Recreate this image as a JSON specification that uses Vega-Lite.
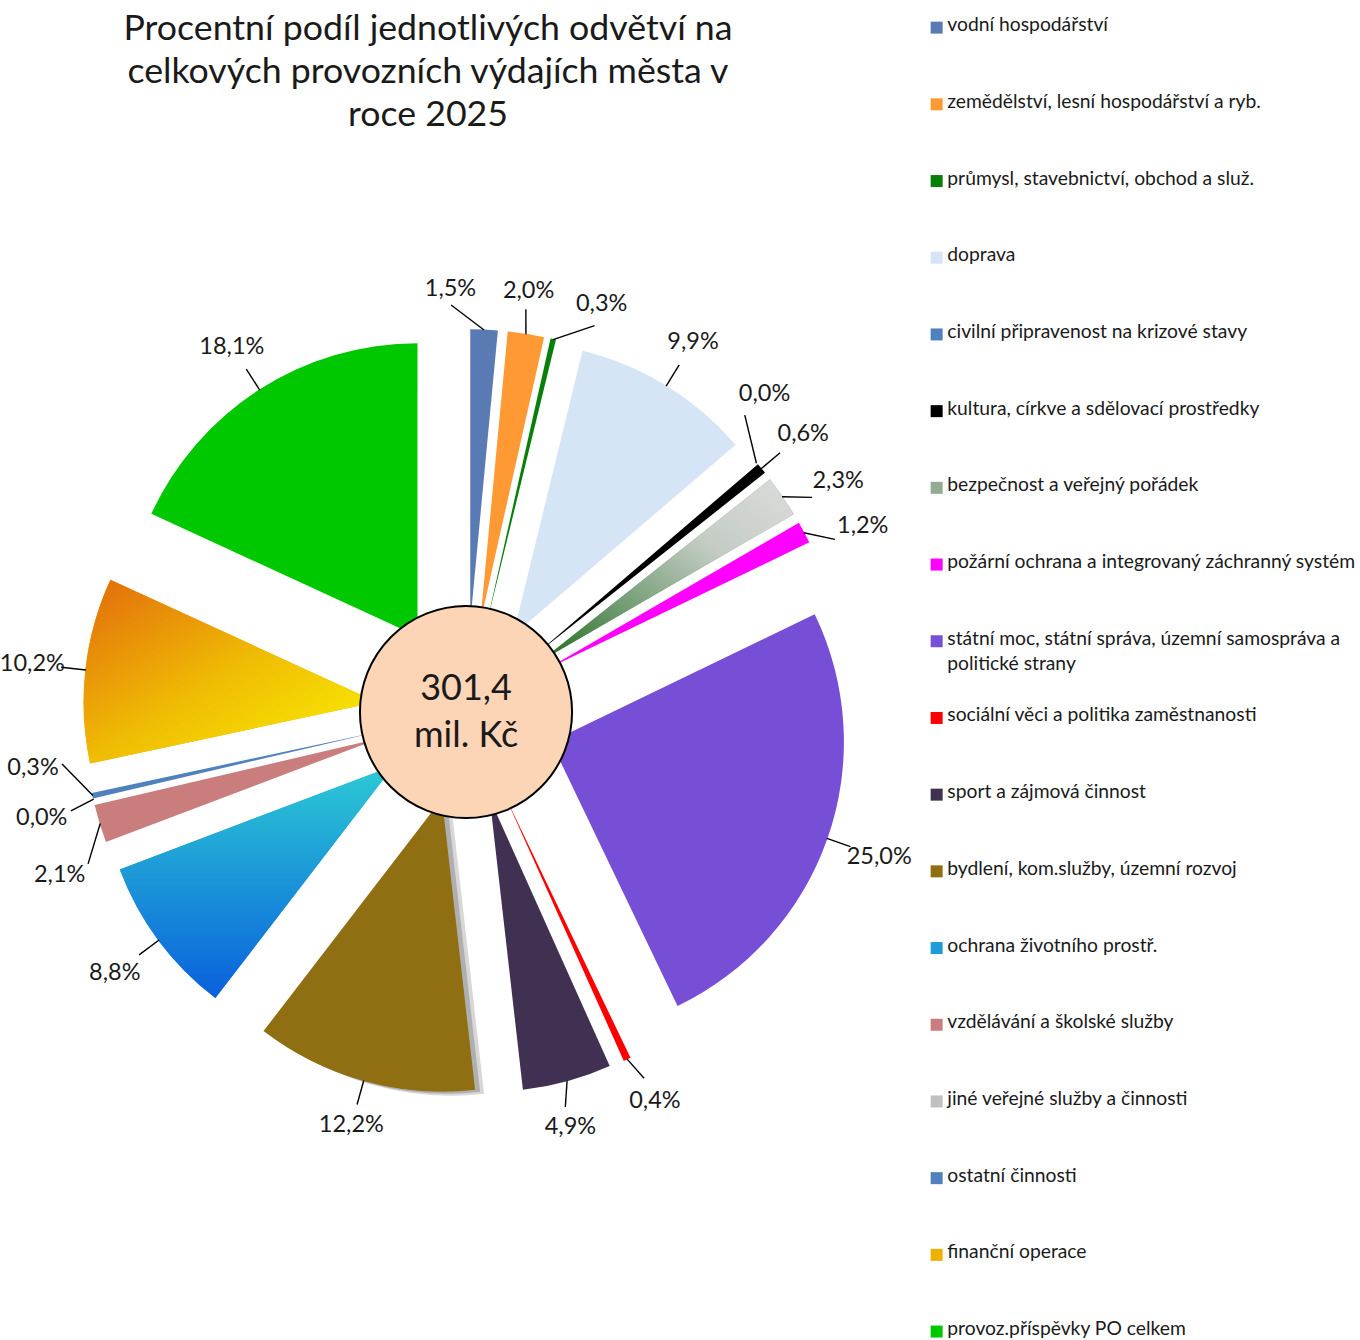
{
  "$schema": "https://vega.github.io/schema/vega-lite/v6.json",
  "width": 932,
  "height": 1340,
  "autosize": {"type": "none"},
  "padding": {"left": 0, "top": 0, "right": 428, "bottom": 0},
  "background": "white",
  "config": {"view": {"stroke": null}, "font": "Lato"},
  "title": {
    "text": ["Procentní podíl jednotlivých odvětví na", "celkových provozních výdajích města v", "roce 2025"],
    "font": "Lato", "fontSize": 35.7, "fontWeight": "normal", "lineHeight": 43, "color": "#1a1a1a",
    "anchor": "middle", "dx": -38, "offset": -134
  },
  "layer": [
    {
      "data": {"values": [
        {"cat": "vodní hospodářství", "share": 0.015},
        {"cat": "zemědělství, lesní hospodářství a ryb.", "share": 0.020},
        {"cat": "průmysl, stavebnictví, obchod a služ.", "share": 0.003},
        {"cat": "doprava", "share": 0.099},
        {"cat": "civilní připravenost na krizové stavy", "share": 0.0},
        {"cat": "kultura, církve a sdělovací prostředky", "share": 0.006},
        {"cat": "bezpečnost a veřejný pořádek", "share": 0.023},
        {"cat": "požární ochrana a integrovaný záchranný systém", "share": 0.012},
        {"cat": "státní moc, státní správa, územní samospráva a politické strany", "share": 0.250},
        {"cat": "sociální věci a politika zaměstnanosti", "share": 0.004},
        {"cat": "sport a zájmová činnost", "share": 0.049},
        {"cat": "bydlení, kom.služby, územní rozvoj", "share": 0.122},
        {"cat": "ochrana životního prostř.", "share": 0.088},
        {"cat": "vzdělávání a školské služby", "share": 0.021},
        {"cat": "jiné veřejné služby a činnosti", "share": 0.0},
        {"cat": "ostatní činnosti", "share": 0.003},
        {"cat": "finanční operace", "share": 0.102},
        {"cat": "provoz.příspěvky PO celkem", "share": 0.181}
      ]},
      "transform": [
        {"joinaggregate": [{"op": "sum", "field": "share", "as": "total"}]},
        {"window": [{"op": "sum", "field": "share", "as": "cum"}], "frame": [null, 0]},
        {"calculate": "2*PI*(datum.cum - datum.share)/datum.total", "as": "a0"},
        {"calculate": "2*PI*datum.cum/datum.total", "as": "a1"},
        {"calculate": "(datum.a0 + datum.a1)/2", "as": "mid"},
        {"window": [{"op": "lag", "field": "mid", "as": "prevMid"}, {"op": "lead", "field": "mid", "as": "nextMid"}]},
        {"calculate": "(8 + 4*abs(cos(datum.mid)))*PI/180", "as": "gap"},
        {"calculate": "datum.mid + (isValid(datum.prevMid) ? max(0, datum.gap - (datum.mid - datum.prevMid))/2 : 0) - (isValid(datum.nextMid) ? max(0, datum.gap - (datum.nextMid - datum.mid))/2 : 0)", "as": "la"},
        {"window": [{"op": "lag", "field": "la", "as": "pLa"}, {"op": "lead", "field": "la", "as": "nLa"}]},
        {"calculate": "(8 + 4*abs(cos(datum.la)))*PI/180", "as": "gap2"},
        {"calculate": "datum.la + (isValid(datum.pLa) ? max(0, datum.gap2 - (datum.la - datum.pLa))/2 : 0) - (isValid(datum.nLa) ? max(0, datum.gap2 - (datum.nLa - datum.la))/2 : 0)", "as": "lb"},
        {"calculate": "0.307*sin(datum.mid)", "as": "cx"},
        {"calculate": "0.307*cos(datum.mid)", "as": "cy"},
        {"calculate": "1.305*sin(datum.mid)", "as": "l1x"},
        {"calculate": "1.305*cos(datum.mid)", "as": "l1y"},
        {"calculate": "1.39*sin(datum.lb)", "as": "l2x"},
        {"calculate": "1.39*cos(datum.lb)", "as": "l2y"},
        {"calculate": "1.40 + 0.042*abs(cos(datum.lb)) + 0.085*abs(sin(datum.lb))", "as": "rt"},
        {"calculate": "datum.rt*sin(datum.lb)", "as": "tx"},
        {"calculate": "datum.rt*cos(datum.lb)", "as": "ty"},
        {"calculate": "replace(format(datum.share, '.1%'), '.', ',')", "as": "label"}
      ],
      "encoding": {
        "x": {"field": "cx", "type": "quantitative", "axis": null, "scale": {"domain": [-1.5904, 1.5904], "nice": false, "zero": false}},
        "y": {"field": "cy", "type": "quantitative", "axis": null, "scale": {"domain": [-2.1433, 2.43], "nice": false, "zero": false}}
      },
      "layer": [
        {
          "transform": [{"filter": "datum.cat === 'bydlení, kom.služby, územní rozvoj'"}],
          "mark": {"type": "arc", "outerRadius": 293, "color": "#8c8c8c", "opacity": 0.35, "xOffset": 9, "yOffset": 4},
          "encoding": {
            "theta": {"field": "a0", "type": "quantitative", "scale": null, "stack": null},
            "theta2": {"field": "a1"}
          }
        },
        {
          "transform": [{"filter": "datum.cat === 'bydlení, kom.služby, územní rozvoj'"}],
          "mark": {"type": "arc", "outerRadius": 293, "color": "#7f7f7f", "opacity": 0.45, "xOffset": 5, "yOffset": 2},
          "encoding": {
            "theta": {"field": "a0", "type": "quantitative", "scale": null, "stack": null},
            "theta2": {"field": "a1"}
          }
        },
        {
          "mark": {"type": "arc", "outerRadius": 293},
          "encoding": {
            "theta": {"field": "a0", "type": "quantitative", "scale": null, "stack": null},
            "theta2": {"field": "a1"},
            "color": {
              "field": "cat", "type": "nominal",
              "scale": {
                "domain": ["vodní hospodářství", "zemědělství, lesní hospodářství a ryb.", "průmysl, stavebnictví, obchod a služ.", "doprava", "civilní připravenost na krizové stavy", "kultura, církve a sdělovací prostředky", "bezpečnost a veřejný pořádek", "požární ochrana a integrovaný záchranný systém", "státní moc, státní správa, územní samospráva a politické strany", "sociální věci a politika zaměstnanosti", "sport a zájmová činnost", "bydlení, kom.služby, územní rozvoj", "ochrana životního prostř.", "vzdělávání a školské služby", "jiné veřejné služby a činnosti", "ostatní činnosti", "finanční operace", "provoz.příspěvky PO celkem"],
                "range": ["#5a7ab3", "#ff9933", "#087f08", "#d6e5f5", "#4f81bd", "#000000", "#8fae8f", "#ff00ff", "#774fd6", "#ff0000", "#403152", "#8f6f12", "#1e9bd8", "#c97d7d", "#c0c0c0", "#4f81bd", "#f0b000", "#00c800"]
              },
              "legend": {
                "title": null, "orient": "none", "legendX": 927, "legendY": 18, "padding": 0,
                "symbolType": "square", "symbolSize": 144, "symbolStrokeWidth": 0,
                "labelFont": "Lato", "labelFontSize": 19.3, "labelColor": "#1a1a1a", "labelLimit": 600, "labelOffset": 1,
                "labelBaseline": "top", "rowPadding": 31.7,
                "labelExpr": "datum.label == 'státní moc, státní správa, územní samospráva a politické strany' ? ['státní moc, státní správa, územní samospráva a', 'politické strany'] : [datum.label, '']",
                "encode": {
                  "labels": {"update": {"dy": {"value": -11.5}, "lineHeight": {"value": 25}}}
                }
              }
            }
          }
        },
        {
          "transform": [{"filter": "datum.cat === 'bezpečnost a veřejný pořádek'"}],
          "mark": {"type": "arc", "outerRadius": 293, "color": {"gradient": "linear", "x1": 1, "y1": 0, "x2": 0, "y2": 1, "stops": [{"offset": 0, "color": "#dcdcdc"}, {"offset": 0.35, "color": "#c4ccc4"}, {"offset": 0.7, "color": "#6f9a6f"}, {"offset": 1, "color": "#1f6e1f"}]}},
          "encoding": {
            "theta": {"field": "a0", "type": "quantitative", "scale": null, "stack": null},
            "theta2": {"field": "a1"}
          }
        },
        {
          "transform": [{"filter": "datum.cat === 'ochrana životního prostř.'"}],
          "mark": {"type": "arc", "outerRadius": 293, "color": {"gradient": "linear", "x1": 0, "y1": 0, "x2": 0, "y2": 1, "stops": [{"offset": 0, "color": "#2ccad4"}, {"offset": 1, "color": "#0a60dc"}]}},
          "encoding": {
            "theta": {"field": "a0", "type": "quantitative", "scale": null, "stack": null},
            "theta2": {"field": "a1"}
          }
        },
        {
          "transform": [{"filter": "datum.cat === 'finanční operace'"}],
          "mark": {"type": "arc", "outerRadius": 293, "color": {"gradient": "linear", "x1": 0, "y1": 0, "x2": 1, "y2": 1, "stops": [{"offset": 0, "color": "#e26a0c"}, {"offset": 0.5, "color": "#efbc04"}, {"offset": 1, "color": "#fbf400"}]}},
          "encoding": {
            "theta": {"field": "a0", "type": "quantitative", "scale": null, "stack": null},
            "theta2": {"field": "a1"}
          }
        },
        {
          "mark": {"type": "rule", "color": "#000000", "strokeWidth": 1.4},
          "encoding": {
            "x": {"field": "l1x", "type": "quantitative"},
            "y": {"field": "l1y", "type": "quantitative"},
            "x2": {"field": "l2x"},
            "y2": {"field": "l2y"}
          }
        },
        {
          "mark": {"type": "text", "font": "Lato", "fontSize": 23.5, "color": "#1a1a1a", "align": "center", "baseline": "middle"},
          "encoding": {
            "x": {"field": "tx", "type": "quantitative"},
            "y": {"field": "ty", "type": "quantitative"},
            "text": {"field": "label"}
          }
        }
      ]
    },
    {
      "data": {"values": [{"total": "301,4\nmil. Kč"}]},
      "encoding": {
        "x": {"datum": 0, "type": "quantitative", "axis": null, "scale": {"domain": [-1.5904, 1.5904], "nice": false, "zero": false}},
        "y": {"datum": 0, "type": "quantitative", "axis": null, "scale": {"domain": [-2.1433, 2.43], "nice": false, "zero": false}}
      },
      "layer": [
        {
          "mark": {"type": "point", "shape": "circle", "filled": true, "fill": "#fbd5b5", "stroke": "#000000", "strokeWidth": 2, "size": 45000, "opacity": 1}
        },
        {
          "mark": {"type": "text", "font": "Lato", "fontSize": 36, "lineHeight": 47, "lineBreak": "\n", "dy": -23.5, "color": "#1a1a1a", "align": "center", "baseline": "middle"},
          "encoding": {"text": {"field": "total"}}
        }
      ]
    }
  ]
}
